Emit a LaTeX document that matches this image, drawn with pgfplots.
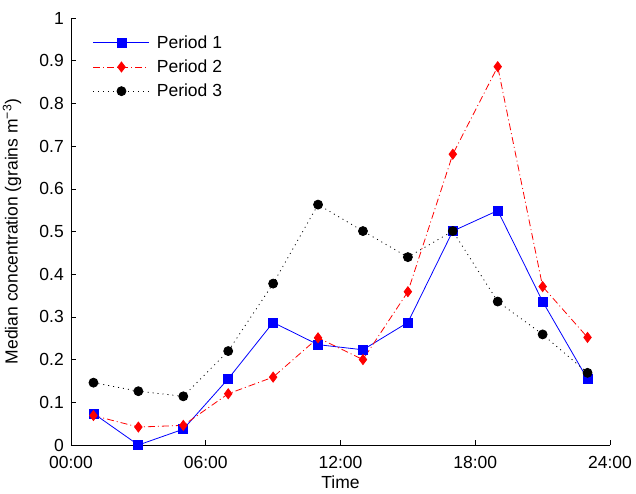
\documentclass[border=0pt]{standalone}
\usepackage{fontspec}
\setmainfont{Liberation Sans}
\usepackage{pgfplots}
\pgfplotsset{compat=1.18}
\newcommand{\chartfont}{\fontsize{17.5}{21}\selectfont}
\begin{document}
\begin{tikzpicture}
\path[use as bounding box] (-71pt,-48pt) rectangle (565pt,445pt);
\begin{axis}[
  scale only axis, width=539pt, height=427pt,
  at={(0pt,0pt)}, anchor=south west,
  xmin=0, xmax=24, ymin=0, ymax=1,
  clip=false,
  axis x line*=bottom, axis y line*=left,
  axis line style={line width=0.6pt, -},
  tick align=inside, major tick length=5pt,
  tick style={line width=0.6pt, black},
  xtick={0,6,12,18,24},
  xticklabels={00:00,06:00,12:00,18:00,24:00},
  ytick={0,0.1,0.2,0.3,0.4,0.5,0.6,0.7,0.8,0.9,1},
  /pgf/number format/assume math mode=true,
  /pgf/number format/fixed,
  /pgf/number format/precision=1,
  ticklabel style={font=\chartfont},
  xticklabel style={inner sep=0pt, yshift=-11pt},
  yticklabel style={inner sep=0pt, xshift=-7pt},
  xlabel={Time},
  ylabel={Median concentration (grains m\textsuperscript{−3})},
  every axis x label/.style={at={(axis description cs:0.5,-0.0867)}, anchor=center, font=\chartfont},
  every axis y label/.style={at={(axis description cs:-0.1095,0.5)}, rotate=90, anchor=center, font=\chartfont},
  legend style={at={(axis description cs:0.035,0.966)}, anchor=north west, draw=none, fill=none,
    font=\chartfont, row sep=8pt, column sep=6pt, nodes={inner sep=1pt}},
  legend cell align=left,
  legend image code/.code={\draw[mark repeat=2,mark phase=2,#1] plot coordinates {(0pt,0pt) (28pt,0pt) (56pt,0pt)};},
]
\addplot[blue, line width=0.8pt, mark=square*, mark size=4.5pt, mark options={solid, fill=blue}]
  coordinates {(1,0.074)(3,0.0)(5,0.037)(7,0.155)(9,0.287)(11,0.235)(13,0.223)(15,0.287)(17,0.501)(19,0.549)(21,0.336)(23,0.154)};
\addlegendentry{Period 1}
\addplot[red, line width=0.8pt, dash pattern=on 7pt off 3pt on 1pt off 3pt, mark=diamond*, mark size=5pt, mark options={solid, fill=red}]
  coordinates {(1,0.069)(3,0.042)(5,0.046)(7,0.120)(9,0.159)(11,0.251)(13,0.200)(15,0.359)(17,0.681)(19,0.886)(21,0.371)(23,0.252)};
\addlegendentry{Period 2}
\addplot[black, line width=0.8pt, dash pattern=on 1pt off 4pt, mark=*, mark size=4.5pt, mark options={solid, fill=black}]
  coordinates {(1,0.146)(3,0.126)(5,0.114)(7,0.220)(9,0.378)(11,0.563)(13,0.501)(15,0.440)(17,0.501)(19,0.336)(21,0.259)(23,0.169)};
\addlegendentry{Period 3}
\end{axis}
\end{tikzpicture}
\end{document}
